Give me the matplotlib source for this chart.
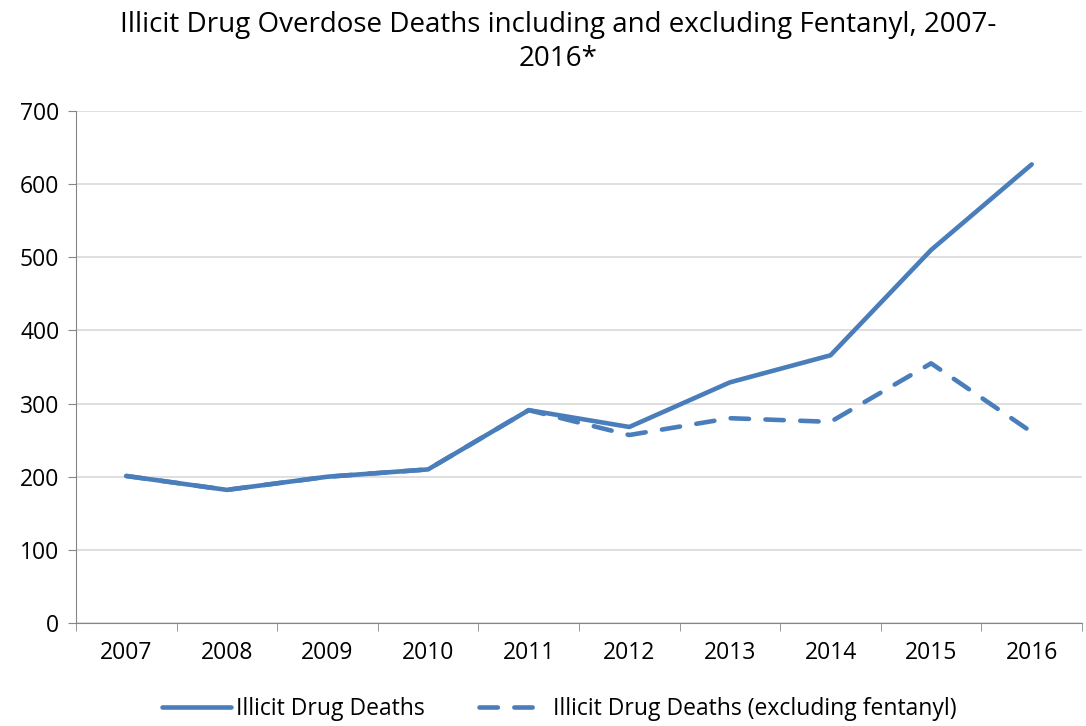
import matplotlib
matplotlib.use("Agg")
from matplotlib import pyplot as plt
import numpy as np

years = ['2007', '2008', '2009', '2010', '2011', '2012', '2013', '2014', '2015', '2016']
illicit = [201, 182, 200, 210, 291, 268, 329, 366, 510, 627]
illicit_no_fent = [201, 182, 200, 210, 291, 257, 280, 275, 355, 261]

plt.rcParams['font.family'] = ['Open Sans', 'DejaVu Sans']
blue = '#4A7EBB'

fig = plt.figure(figsize=(10.86, 7.26), dpi=100)
ax = fig.add_axes([76/1086, 1-623/726, (1082-76)/1086, (623-111)/726])

x = np.arange(len(years))
ax.plot(x, illicit_no_fent, color=blue, linewidth=3.3, linestyle=(0, (4, 3.6)),
        dash_capstyle='round', solid_capstyle='round',
        label='Illicit Drug Deaths (excluding fentanyl)', zorder=3)
ax.plot(x, illicit, color=blue, linewidth=3.3, solid_capstyle='round',
        solid_joinstyle='round', label='Illicit Drug Deaths', zorder=4)

ax.set_xlim(-0.5, len(years) - 0.5)
ax.set_ylim(0, 700)
ax.set_yticks(range(0, 701, 100))
ax.set_xticks(x)
ax.set_xticklabels(years)
ax.set_xticks(np.arange(-0.5, len(years), 1), minor=True)
ax.tick_params(axis='x', which='major', length=0, pad=13, labelsize=16.5)
ax.tick_params(axis='x', which='minor', length=6, color='#868686', direction='out')
ax.tick_params(axis='y', length=6, color='#868686', labelsize=16.5, pad=6)

ax.grid(axis='y', color='#D9D9D9', linewidth=1.2)
ax.set_axisbelow(True)
for s in ['top', 'right']:
    ax.spines[s].set_visible(False)
ax.spines['left'].set_color('#868686')
ax.spines['bottom'].set_color('#868686')

fig.text(0.514, 0.985, 'Illicit Drug Overdose Deaths including and excluding Fentanyl, 2007-\n2016*',
         ha='center', va='top', fontsize=20, linespacing=1.3)

h, l = ax.get_legend_handles_labels()
fig.legend([h[1], h[0]], [l[1], l[0]], loc='lower center', bbox_to_anchor=(0.515, -0.022),
           ncol=2, frameon=False, fontsize=16.5, handlelength=3.0, columnspacing=2.4,
           handletextpad=0.2)

fig.savefig('out.png', dpi=100)
